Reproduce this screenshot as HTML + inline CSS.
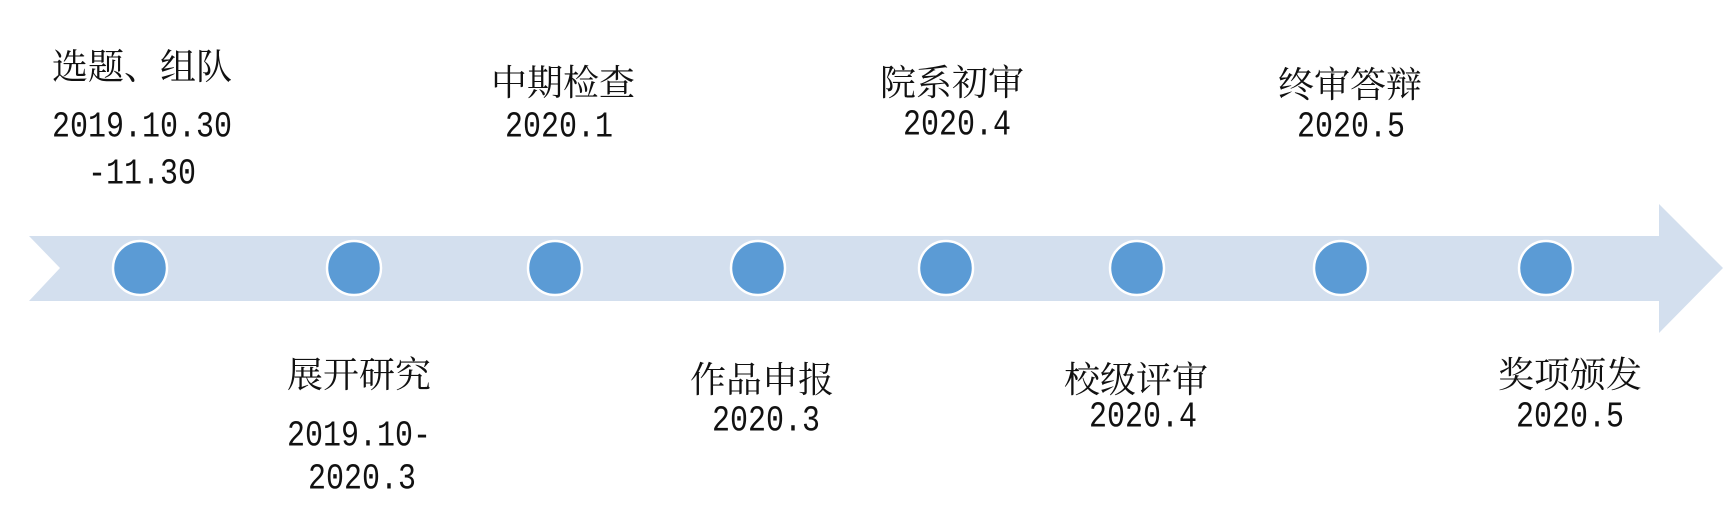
<!DOCTYPE html>
<html><head><meta charset="utf-8"><style>
html,body{margin:0;padding:0;background:#fff;}
#c{position:relative;width:1731px;height:505px;overflow:hidden;}
.t{position:absolute;width:400px;text-align:center;color:#111;white-space:nowrap;}
.h{font-family:"Liberation Serif","Noto Serif CJK SC",serif;font-size:36px;line-height:36px;height:36px;}
.d{font-family:"Liberation Mono",monospace;font-size:30px;line-height:30px;height:30px;}
.d span{display:inline-block;transform:scaleY(1.2);}
</style></head><body><div id="c">
<svg width="1731" height="505" style="position:absolute;left:0;top:0">
<polygon points="29,236 1659,236 1659,204 1723,268 1659,333 1659,301 29,301 60,268" fill="#d3dfee"/>
<g fill="#5b9bd5" stroke="#fff" stroke-width="2.5">
<circle cx="140" cy="268" r="27"/><circle cx="354" cy="268" r="27"/><circle cx="555" cy="268" r="27"/><circle cx="758" cy="268" r="27"/>
<circle cx="946" cy="268" r="27"/><circle cx="1137" cy="268" r="27"/><circle cx="1341" cy="268" r="27"/><circle cx="1546" cy="268" r="27"/>
</g></svg>
<div class="t h" style="left:-58px;top:49px">选题、组队</div>
<div class="t d" style="left:-58px;top:113px"><span>2019.10.30</span></div>
<div class="t d" style="left:-58px;top:160px"><span>-11.30</span></div>

<div class="t h" style="left:363px;top:65px">中期检查</div>
<div class="t d" style="left:359px;top:113px"><span>2020.1</span></div>

<div class="t h" style="left:752px;top:65px">院系初审</div>
<div class="t d" style="left:757px;top:111px"><span>2020.4</span></div>

<div class="t h" style="left:1150px;top:67px">终审答辩</div>
<div class="t d" style="left:1151px;top:113px"><span>2020.5</span></div>

<div class="t h" style="left:159px;top:357px">展开研究</div>
<div class="t d" style="left:159px;top:422px"><span>2019.10-</span></div>
<div class="t d" style="left:162px;top:465px"><span>2020.3</span></div>

<div class="t h" style="left:562px;top:362px">作品申报</div>
<div class="t d" style="left:566px;top:407px"><span>2020.3</span></div>

<div class="t h" style="left:936px;top:362px">校级评审</div>
<div class="t d" style="left:943px;top:403px"><span>2020.4</span></div>

<div class="t h" style="left:1370px;top:357px">奖项颁发</div>
<div class="t d" style="left:1370px;top:403px"><span>2020.5</span></div>
</div></body></html>
